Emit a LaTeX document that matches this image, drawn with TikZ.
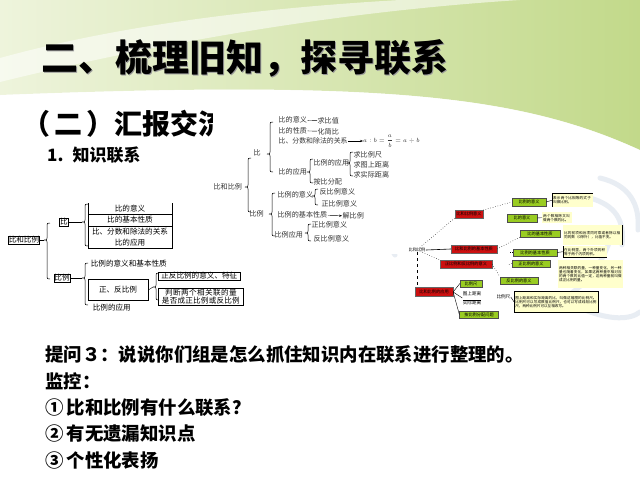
\documentclass[tikz,border=0pt]{standalone}
\usepackage{fontspec}
\setmainfont{Liberation Sans}
\newfontfamily\cjk{Noto Sans CJK SC}
\XeTeXlinebreaklocale "zh"
\XeTeXlinebreakskip = 0pt plus 1pt
\usetikzlibrary{arrows.meta,calc}
\definecolor{gLeft}{HTML}{EEF4DC}
\definecolor{gRight}{HTML}{C2D98A}
\definecolor{rbox}{HTML}{CC1010}
\definecolor{gbox}{HTML}{99CC22}
\definecolor{ybox}{HTML}{FFFFCC}
\definecolor{wmark}{HTML}{E8EDF3}
\definecolor{tshadow}{HTML}{9A9A9A}
\newcommand\kbrace[4]{\draw[brline] (#1+3,#2) .. controls (#1,#2) .. (#1,#2+3) -- (#1,#3-2) .. controls (#1,#3) .. (#1-3,#3) .. controls (#1,#3) .. (#1,#3+2) -- (#1,#4-3) .. controls (#1,#4) .. (#1+3,#4);}
\begin{document}
\begin{tikzpicture}[x=1pt,y=-1pt,
  lt/.style={font=\cjk\fontsize{7.6}{8.4}\selectfont, inner sep=0.6pt},
  mt/.style={font=\cjk\fontsize{7.1}{7.6}\selectfont, inner sep=0.4pt, anchor=west, text=black!80},
  rt/.style={font=\cjk\fontsize{4.2}{4.6}\selectfont, inner sep=0.3pt},
  rb/.style={rt, fill=rbox, draw=black!60, line width=0.3pt, minimum height=7.5pt},
  gb/.style={rt, fill=gbox, draw=black!70, line width=0.3pt, minimum height=7pt},
  yb/.style={font=\cjk\fontsize{3.6}{4.1}\selectfont, fill=ybox, anchor=north west, align=left, inner sep=1pt},
  bt/.style={font=\cjk\bfseries\fontsize{18.4}{20}\selectfont, anchor=west, inner sep=0},
  brline/.style={line width=0.5pt},
  wm/.style={wmark, line width=5pt, line cap=round}]
\useasboundingbox (0,0) rectangle (640,480);
\fill[white] (0,0) rectangle (640,480);
% green top band
\shade[left color=gLeft, right color=gRight] (0,0) -- (640,0) -- (640,150) .. controls (520,95) and (380,80) .. (0,95) -- cycle;
\fill[white, opacity=0.55] (0,58) .. controls (120,25) and (260,8) .. (400,0) -- (520,0) .. controls (330,12) and (150,45) .. (0,82) -- cycle;
\fill[white, opacity=0.5] (0,95) .. controls (380,80) and (520,95) .. (640,150) -- (640,160) .. controls (500,110) and (300,100) .. (0,105) -- cycle;
% watermark
\draw[wm] (600,178) .. controls (630,185) and (640,205) .. (638,230);
\draw[wm] (590,198) .. controls (615,205) and (625,220) .. (622,245);
\draw[wm] (610,240) .. controls (600,270) and (580,290) .. (560,300);
\draw[wm] (395,205) .. controls (385,220) and (385,240) .. (395,255);
\draw[wm] (585,310) .. controls (610,320) and (630,320) .. (640,312);

% title
\node[font=\cjk\bfseries\fontsize{37}{40}\selectfont, anchor=west, inner sep=0, text=tshadow] at (42.5,59.5) {二、梳理旧知，探寻联系};
\node[font=\cjk\bfseries\fontsize{37}{40}\selectfont, anchor=west, inner sep=0] (title) at (41,58) {二、梳理旧知，探寻联系};
\node[font=\cjk\bfseries\fontsize{28}{30}\selectfont, anchor=west, inner sep=0] (sub) at (22,124) {（\hspace{4pt}二\hspace{4pt}）汇报交流};
\node[font=\cjk\bfseries\fontsize{17}{19}\selectfont, anchor=west, inner sep=0] (s1) at (47,155) {1.\hspace{9pt}知识联系};

% ---------- middle diagram ----------
\fill[white] (213,108) rectangle (422,254);
\node[mt] (m0) at (213,187) {比和比例};
\node[mt] (mb) at (253,153) {比};
\node[mt] (mbl) at (249,214) {比例};
\kbrace{248}{158}{187}{212}
\kbrace{270}{122}{154}{172}
\node[mt] (m1) at (278,120) {比的意义};
\node[mt] (m1a) at (317,121) {求比值};
\draw (m1) -- (m1a);
\node[mt] (m2) at (278,130.5) {比的性质};
\node[mt] (m2a) at (317,131.5) {化简比};
\draw (m2) -- (m2a);
\node[mt, font=\cjk\fontsize{6.9}{7.4}\selectfont] (m3) at (278,141) {比、分数和除法的关系};
\node[mt, font=\fontsize{6.5}{7}\selectfont, inner sep=0pt] (m3a) at (363,141) {$a:b={\displaystyle\frac{a}{b}}=a\div b$};
\draw[-{Stealth[length=3pt]}] (m3.east) -- (m3a.west);
\node[mt] (m4) at (278,172) {比的应用};
\kbrace{310}{159}{172}{183}
\node[mt] (m5) at (313,163) {比例的应用};
\node[mt] (m6) at (313,182) {按比分配};
\kbrace{350}{152}{163}{176}
\node[mt] (m7) at (353,155) {求比例尺};
\node[mt] (m8) at (353,165) {求图上距离};
\node[mt] (m9) at (353,175) {求实际距离};
\kbrace{272}{193}{214}{236}
\node[mt] (n1) at (277,195) {比例的意义};
\node[mt] (n2) at (277,215) {比例的基本性质};
\node[mt] (n2a) at (342,216) {解比例};
\draw[-{Stealth[length=3pt]}] (n2) -- (n2a);
\node[mt] (n3) at (274,235) {比例应用};
\kbrace{315}{189}{196}{205}
\node[mt] (n4) at (319,192) {反比例意义};
\node[mt] (n5) at (321,204) {正比例意义};
\kbrace{308}{224}{233}{241}
\node[mt] (n6) at (311,225) {正比例意义};
\node[mt] (n7) at (313,239) {反比例意义};

% ---------- left diagram ----------
\node[lt, draw, line width=0.6pt, inner sep=0.3pt] (L0) at (24,240) {比和比例};
\kbrace{47}{223}{240}{279}
\draw (L0.east) -- (44,240);
\node[lt, draw, line width=0.6pt] (Lb) at (64,222) {比};
\node[lt, draw, line width=0.6pt] (Lbl) at (62,278) {比例};
\kbrace{85}{204}{222}{246}
\draw (Lb.east) -- (82,222);
\draw[line width=0.6pt] (88,203) -- (88,248) -- (172,248) -- (172,203);
\draw[line width=0.6pt] (88,214.5) -- (172,214.5);
\draw[line width=0.6pt] (88,226) -- (172,226);
\node[lt] (t1) at (130,208.5) {比的意义};
\node[lt] (t2) at (130,220) {比的基本性质};
\node[lt] (t3) at (130,231.5) {比、分数和除法的关系};
\node[lt] (t4) at (130,243) {比的应用};
\kbrace{85}{263}{278}{305}
\draw (Lbl.east) -- (82,278);
\node[lt, anchor=west] (t5) at (90,264) {比例的意义和基本性质};
\node[lt, draw, line width=0.6pt, minimum width=60pt, minimum height=21pt] (t6) at (118,290) {正、反比例};
\node[lt, anchor=west] (t7) at (92,308) {比例的应用};
\kbrace{156}{273}{287}{300}
\draw (t6.east) -- (153,287);
\node[lt, draw, line width=0.6pt, anchor=west, minimum width=82pt] (t8) at (158,276) {正反比例的意义、特征};
\node[lt, draw, line width=0.6pt, anchor=north west, align=center, text width=84pt] (t9) at (158,288) {判断两个相关联的量\\是否成正比例或反比例};

% ---------- right diagram ----------
\node[rt] (C) at (417,250) {比和比例};
\node[rb, minimum width=28pt] (R1) at (469,214) {比和比例意义};
\node[rb, minimum width=46pt] (R2) at (474,249) {比和比例的基本性质};
\node[rb, minimum width=52pt] (R3) at (466,264) {正比例和反比例的意义};
\node[rb, minimum width=38pt, minimum height=9pt] (R4) at (434,292) {比和比例的应用};
\node[gb, minimum width=34pt, minimum height=8pt] (G1) at (529,202) {比例的意义};
\node[gb, minimum width=30pt, minimum height=8pt] (G2) at (522,218) {比的意义};
\node[gb, minimum width=40pt] (G3) at (540,233.5) {比的基本性质};
\node[gb, minimum width=44pt] (G4) at (535,252.5) {比例的基本性质};
\node[gb, minimum width=38pt] (G5) at (531,263.5) {正比例的意义};
\node[gb, minimum width=38pt] (G6) at (519,280.5) {反比例的意义};
\node[gb, minimum width=22pt] (G7) at (471,283.5) {比例尺};
\node[gb, minimum width=39pt] (G8) at (479,314.5) {按比例分配问题};
\node[rt, font=\cjk\fontsize{4.6}{5}\selectfont, align=center] (F) at (472,298) {图上距离\\[-0.5pt]\rule{18pt}{0.4pt}\\[-1pt]实际距离};
\node[rt, anchor=west, font=\cjk\fontsize{4.6}{5}\selectfont] (K) at (496,297) {比例尺};
\node[yb, text width=39pt, minimum height=14pt] (Y1) at (552,193) {表示两个比相等的式子叫做比例。};
\node[yb, text width=28pt, minimum height=11pt] (Y2) at (542,212) {两个数相除又叫做两个数的比。};
\node[yb, text width=57pt, minimum height=20pt] (Y3) at (563,225) {比的前项和后项同时乘或者除以相同的数（0除外），比值不变。};
\node[yb, text width=42pt, minimum height=11pt] (Y4) at (563,246) {在比例里，两个外项的积等于两个内项的积。};
\node[yb, text width=63pt, minimum height=28pt] (Y5) at (558,260) {两种相关联的量，一种量变化，另一种量也随着变化，如果这两种量中相对应的两个数的比值一定，这两种量就叫做成正比例的量。};
\node[yb, draw=black, line width=0.6pt, text width=82pt, minimum height=21pt] (Y6) at (514,291) {图上距离和实际距离的比，叫做这幅图的比例尺。比例尺可以写成数值比例尺，也可以写成线段比例尺，两种比例尺可以互相改写。};
\draw[line width=0.6pt] (Y1.north west) -- (Y1.south west);
\draw[line width=0.6pt] (Y1.north west) -- (Y1.north east);
\draw[line width=0.6pt] (Y3.north east) -- (Y3.south east);
\draw[line width=0.6pt] (Y4.north west) -- (Y4.south west);
\draw[line width=0.6pt] (Y4.south west) -- (Y4.south east);
\draw[dotted, line width=0.5pt] (C) -- (R1.south west);
\draw[line width=0.6pt] (C.east) -- (R2.west);
\draw[dotted, line width=0.5pt] (C) -- (R3.north west);
\draw[dashed, line width=0.5pt] (C.south) -- (C.south |- R4.north);
\draw[dotted, line width=0.5pt] (R1.north east) -- (G1.west);
\draw[dotted, line width=0.5pt] (R2.east) -- (G3.south west);
\draw[dotted, line width=0.5pt] (R3.east) -- (G6.north west);
\draw[dotted, line width=0.5pt] (G4.west) -- ++(-3,0);
\draw[dotted, line width=0.5pt] (G5.west) -- ++(-3,1);
\draw[line width=0.4pt] (G1.east) -- (Y1.west);
\draw[line width=0.4pt] (G2.east) -- (Y2.west);
\draw[line width=0.4pt] (G4.east) -- (Y4.west);
\draw[line width=0.4pt] (R4.east) -- (G7.west);
\draw[line width=0.4pt] (R4.east) -- (F.west);
\draw[line width=0.4pt] (R4.east) -- (G8.west);
\draw[line width=0.4pt] (K.east) -- (Y6.west);

% ---------- bottom text ----------
\node[bt] (q1) at (45,355) {提问３：说说你们组是怎么抓住知识内在联系进行整理的。};
\node[bt] (q2) at (45,381) {监控：};
\node[bt] (q3) at (45,408) {①\hspace{3pt}比和比例有什么联系？};
\node[bt] (q4) at (45,434) {②\hspace{3pt}有无遗漏知识点};
\node[bt] (q5) at (45,460) {③\hspace{3pt}个性化表扬};
\end{tikzpicture}
\end{document}
